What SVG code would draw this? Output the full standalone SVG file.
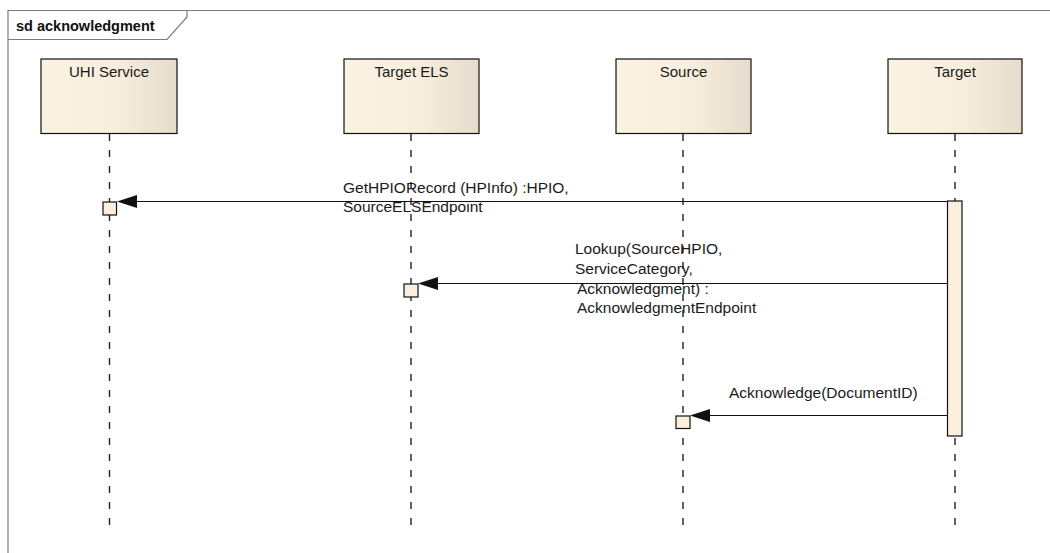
<svg xmlns="http://www.w3.org/2000/svg" width="1050" height="553" viewBox="0 0 1050 553">
  <style>
    .frame { fill: none; stroke: #7a7a7a; stroke-width: 1.2; }
    .title { font-family: "Liberation Sans", Arial, sans-serif; font-size: 14.5px; font-weight: bold; fill: #111; }
    .head { fill: url(#headFill); stroke: #111; stroke-width: 1.2; }
    .headText { font-family: "Liberation Sans", Arial, sans-serif; font-size: 15px; fill: #1a1a1a; text-anchor: middle; }
    .life { stroke: #222; stroke-width: 1.4; stroke-dasharray: 7 9; }
    .act { fill: #fbf0e0; stroke: #111; stroke-width: 1.2; }
    .msg { stroke: #111; stroke-width: 1.2; fill: none; }
    .lbl { font-family: "Liberation Sans", Arial, sans-serif; font-size: 15.5px; fill: #1a1a1a; }
  </style>
  <defs>
    <linearGradient id="headFill" x1="0" y1="0" x2="1" y2="0">
      <stop offset="0" stop-color="#fbf2e4"/>
      <stop offset="0.55" stop-color="#f8eedd"/>
      <stop offset="1" stop-color="#e6dccb"/>
    </linearGradient>
    <marker id="arrow" viewBox="0 0 20 14" refX="0" refY="7" markerWidth="20" markerHeight="14" markerUnits="userSpaceOnUse" orient="auto-start-reverse">
      <path d="M0,7 L20,0 L20,14 Z" fill="#111"/>
    </marker>
  </defs>

  <rect width="1050" height="553" fill="#ffffff"/>

  <!-- sequence frame -->
  <g id="frame">
    <path class="frame" d="M8,553 L8,10.5 L1050,10.5"/>
    <path class="frame" d="M8,39.5 L167,39.5 L187,17 L187,10.5"/>
    <text class="title" x="16" y="31">sd acknowledgment</text>
  </g>

  <!-- lifelines -->
  <g id="uhi-service">
    <line class="life" x1="109.5" y1="134" x2="109.5" y2="529"/>
    <rect class="head" x="41" y="59" width="136" height="74.5"/>
    <text class="headText" x="109" y="77">UHI Service</text>
    <rect class="act" x="103" y="202" width="13.5" height="13"/>
  </g>
  <g id="target-els">
    <line class="life" x1="411" y1="134" x2="411" y2="529"/>
    <rect class="head" x="344" y="59" width="135" height="74.5"/>
    <text class="headText" x="411.5" y="77">Target ELS</text>
    <rect class="act" x="404" y="284" width="14" height="13"/>
  </g>
  <g id="source">
    <line class="life" x1="683" y1="134" x2="683" y2="529"/>
    <rect class="head" x="616" y="59" width="135" height="74.5"/>
    <text class="headText" x="683.5" y="77">Source</text>
    <rect class="act" x="676" y="416" width="14" height="12.5"/>
  </g>
  <g id="target">
    <line class="life" x1="955" y1="134" x2="955" y2="529"/>
    <rect class="head" x="888" y="59" width="134" height="74.5"/>
    <text class="headText" x="955" y="77">Target</text>
    <rect class="act" x="947.5" y="201" width="14.5" height="235"/>
  </g>

  <!-- messages -->
  <g id="connectors">
    <line class="msg" x1="947.5" y1="201.5" x2="136" y2="201.5"/>
    <path d="M117,201.5 L137,195 L137,208 Z" fill="#111"/>
    <text class="lbl" x="343" y="193">GetHPIORecord (HPInfo) :HPIO,</text>
    <text class="lbl" x="343" y="212">SourceELSEndpoint</text>

    <line class="msg" x1="947.5" y1="283.5" x2="437" y2="283.5"/>
    <path d="M418,283.5 L438,277 L438,290 Z" fill="#111"/>
    <text class="lbl" x="575" y="254">Lookup(SourceHPIO,</text>
    <text class="lbl" x="575" y="273.5">ServiceCategory,</text>
    <text class="lbl" x="577" y="294">Acknowledgment) :</text>
    <text class="lbl" x="577" y="313">AcknowledgmentEndpoint</text>

    <line class="msg" x1="947.5" y1="415.5" x2="709" y2="415.5"/>
    <path d="M690,415.5 L710,409 L710,422 Z" fill="#111"/>
    <text class="lbl" x="729" y="398">Acknowledge(DocumentID)</text>
  </g>
</svg>
